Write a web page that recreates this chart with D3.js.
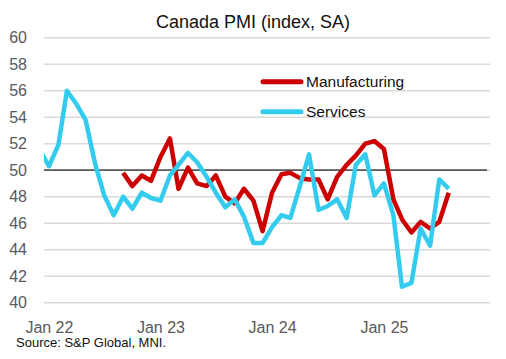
<!DOCTYPE html>
<html>
<head>
<meta charset="utf-8">
<script src="https://cdn.jsdelivr.net/npm/d3@7"></script>
<style>
  body { margin: 0; background: #fff; }
  svg { display: block; font-family: "Liberation Sans", Arial, sans-serif; }
</style>
</head>
<body>
<svg id="chart" width="506" height="359"></svg>
<script>
// months shown on the chart (first one sits just left of the plot edge)
const months = [
  "2021-12",
  "2022-01", "2022-02", "2022-03", "2022-04", "2022-05", "2022-06",
  "2022-07", "2022-08", "2022-09", "2022-10", "2022-11", "2022-12",
  "2023-01", "2023-02", "2023-03", "2023-04", "2023-05", "2023-06",
  "2023-07", "2023-08", "2023-09", "2023-10", "2023-11", "2023-12",
  "2024-01", "2024-02", "2024-03", "2024-04", "2024-05", "2024-06",
  "2024-07", "2024-08", "2024-09", "2024-10", "2024-11", "2024-12",
  "2025-01", "2025-02", "2025-03", "2025-04", "2025-05", "2025-06",
  "2025-07", "2025-08"
];

const services = [
  51.6,
  50.3, 51.9, 56.0, 55.0, 53.8, 50.5, 48.1, 46.6, 48.0, 47.1, 48.3, 47.9,
  47.7, 49.6, 50.4, 51.3, 50.6, 49.5, 48.3, 47.2, 47.8, 46.5, 44.5, 44.5,
  45.7, 46.6, 46.4, 48.8, 51.2, 47.0, 47.3, 47.8, 46.4, 50.4, 51.2, 48.1,
  49.0, 46.6, 41.2, 41.5, 45.6, 44.3, 49.3, 48.6
];

const manufacturing = [
  null,
  null, null, null, null, null, null, null, null, 49.8, 48.8, 49.6, 49.2,
  51.0, 52.4, 48.6, 50.2, 49.0, 48.8, 49.6, 48.0, 47.5, 48.6, 47.7, 45.4,
  48.3, 49.7, 49.8, 49.4, 49.3, 49.3, 47.8, 49.5, 50.4, 51.1, 52.0, 52.2,
  51.6, 47.8, 46.3, 45.3, 46.1, 45.6, 46.1, 48.3
];

const xTicks = ["2022-01", "2023-01", "2024-01", "2025-01"];
const yTicks = [40, 42, 44, 46, 48, 50, 52, 54, 56, 58, 60];
const refLevel = 50;

const series = [
  { name: "Manufacturing", values: manufacturing, color: "#cc0000" },
  { name: "Services", values: services, color: "#33ccee" }
];

const svg = d3.select("#chart");
const parseMonth = d3.timeParse("%Y-%m");

const plot = { left: 44, right: 490, top: 37.7, bottom: 302.7 };

const x = d3.scaleTime()
  .domain([new Date(2021, 11, 16), new Date(2025, 11, 14)])
  .range([plot.left, plot.right]);

const y = d3.scaleLinear()
  .domain([40, 60])
  .range([plot.bottom, plot.top]);

// clip so the first point is cut at the plot edge
svg.append("clipPath").attr("id", "plotClip")
  .append("rect")
  .attr("x", plot.left)
  .attr("y", 0)
  .attr("width", plot.right - plot.left)
  .attr("height", 359);

// title
svg.append("text")
  .attr("x", 253)
  .attr("y", 28)
  .attr("text-anchor", "middle")
  .attr("font-size", 18)
  .attr("fill", "#111")
  .text("Canada PMI (index, SA)");

// gridlines
svg.append("g")
  .selectAll("line")
  .data(yTicks)
  .join("line")
  .attr("x1", plot.left)
  .attr("x2", plot.right)
  .attr("y1", (d) => y(d))
  .attr("y2", (d) => y(d))
  .attr("stroke", "#d9d9d9")
  .attr("stroke-width", 1.6);

// y axis labels
const yAxis = svg.append("g")
  .attr("transform", `translate(${plot.left},0)`)
  .call(d3.axisLeft(y).tickValues(yTicks).tickSize(0).tickPadding(17));
yAxis.select(".domain").remove();
yAxis.selectAll("text")
  .attr("font-size", 16)
  .attr("font-family", "Liberation Sans, Arial, sans-serif")
  .attr("fill", "#595959");

// x axis labels
const xAxis = svg.append("g")
  .attr("transform", `translate(0,${plot.bottom})`)
  .call(
    d3.axisBottom(x)
      .tickValues(xTicks.map(parseMonth))
      .tickFormat(d3.timeFormat("%b %y"))
      .tickSize(0)
      .tickPadding(19)
  );
xAxis.select(".domain").remove();
xAxis.selectAll("text")
  .attr("font-size", 16)
  .attr("font-family", "Liberation Sans, Arial, sans-serif")
  .attr("fill", "#595959");

// 50 reference line
svg.append("line")
  .attr("x1", plot.left)
  .attr("x2", plot.right - 3)
  .attr("y1", y(refLevel))
  .attr("y2", y(refLevel))
  .attr("stroke", "#595959")
  .attr("stroke-width", 1.7);

// series lines
const line = d3.line()
  .defined((d) => d.v != null)
  .x((d) => x(d.date))
  .y((d) => y(d.v));

const lines = svg.append("g").attr("clip-path", "url(#plotClip)");
series.forEach((s) => {
  const pts = months.map((m, i) => ({ date: parseMonth(m), v: s.values[i] }));
  lines.append("path")
    .datum(pts)
    .attr("d", line)
    .attr("fill", "none")
    .attr("stroke", s.color)
    .attr("stroke-width", 4.5)
    .attr("stroke-linejoin", "round");
});

// legend
const legend = svg.append("g")
  .selectAll("g")
  .data(series)
  .join("g")
  .attr("transform", (d, i) => `translate(261,${81.7 + i * 30})`);
legend.append("line")
  .attr("x1", 2)
  .attr("x2", 40)
  .attr("stroke", (d) => d.color)
  .attr("stroke-width", 5)
  .attr("stroke-linecap", "round");
legend.append("text")
  .attr("x", 45)
  .attr("dy", "0.35em")
  .attr("font-size", 15.5)
  .attr("fill", "#111")
  .text((d) => d.name);

// source note
svg.append("text")
  .attr("x", 16)
  .attr("y", 347)
  .attr("font-size", 13)
  .attr("fill", "#111")
  .text("Source: S&P Global, MNI.");
</script>
</body>
</html>
